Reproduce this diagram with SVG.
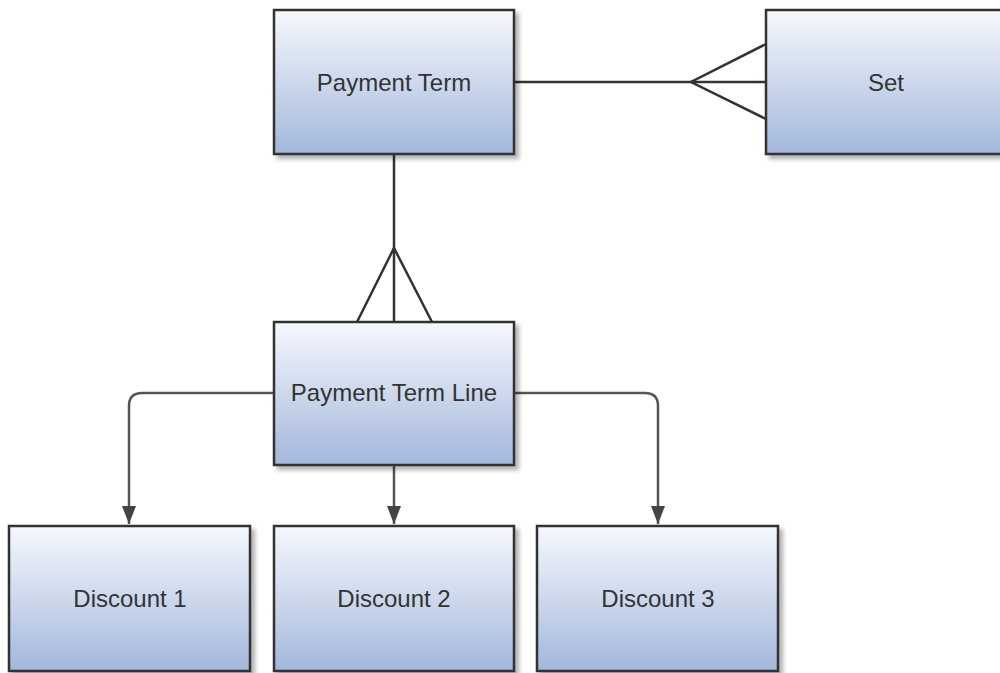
<svg xmlns="http://www.w3.org/2000/svg" width="1000" height="673" viewBox="0 0 1000 673">
<defs>
<linearGradient id="g" x1="0" y1="0" x2="0" y2="1">
<stop offset="0" stop-color="#f6f8fd"/>
<stop offset="0.5" stop-color="#cdd8ec"/>
<stop offset="1" stop-color="#a2b7dc"/>
</linearGradient>
<filter id="sh" x="-10%" y="-10%" width="130%" height="130%">
<feGaussianBlur in="SourceAlpha" stdDeviation="2"/>
<feOffset dx="4" dy="4" result="b"/>
<feComponentTransfer><feFuncA type="linear" slope="0.3"/></feComponentTransfer>
<feMerge><feMergeNode/><feMergeNode in="SourceGraphic"/></feMerge>
</filter>
<marker id="arr" markerWidth="20" markerHeight="16" refX="18" refY="8" orient="auto" markerUnits="userSpaceOnUse">
<path d="M0,1 L18,8 L0,15 Z" fill="#444"/>
</marker>
</defs>
<style>
.box{fill:url(#g);stroke:#333;stroke-width:2.5;filter:url(#sh)}
.lbl{font-family:"Liberation Sans",Arial,sans-serif;font-size:24px;fill:#333;text-anchor:middle;dominant-baseline:central}
.ln{fill:none;stroke:#333;stroke-width:2.5}
.ar{fill:none;stroke:#555;stroke-width:2.5}
</style>
<g id="connectors">
<path class="ln" d="M514,82 H766"/>
<path class="ln" d="M766,44 L691,82 L766,119"/>
<path class="ln" d="M394,154 V322"/>
<path class="ln" d="M357,322 L394,248 L432,322"/>
<path class="ar" d="M274,393 H142 Q129,393 129,406 V524" marker-end="url(#arr)"/>
<path class="ar" d="M394,465 V524" marker-end="url(#arr)"/>
<path class="ar" d="M514,393 H645 Q658,393 658,406 V524" marker-end="url(#arr)"/>
</g>
<g id="payment-term"><rect class="box" x="274" y="10" width="240" height="144"/><text class="lbl" x="394" y="82">Payment Term</text></g>
<g id="set"><rect class="box" x="766" y="10" width="250" height="144"/><text class="lbl" x="886" y="82">Set</text></g>
<g id="payment-term-line"><rect class="box" x="274" y="322" width="240" height="143"/><text class="lbl" x="394" y="392">Payment Term Line</text></g>
<g id="discount-1"><rect class="box" x="9" y="526" width="241" height="145"/><text class="lbl" x="130" y="598">Discount 1</text></g>
<g id="discount-2"><rect class="box" x="274" y="526" width="240" height="145"/><text class="lbl" x="394" y="598">Discount 2</text></g>
<g id="discount-3"><rect class="box" x="537" y="526" width="241" height="145"/><text class="lbl" x="658" y="598">Discount 3</text></g>
</svg>
